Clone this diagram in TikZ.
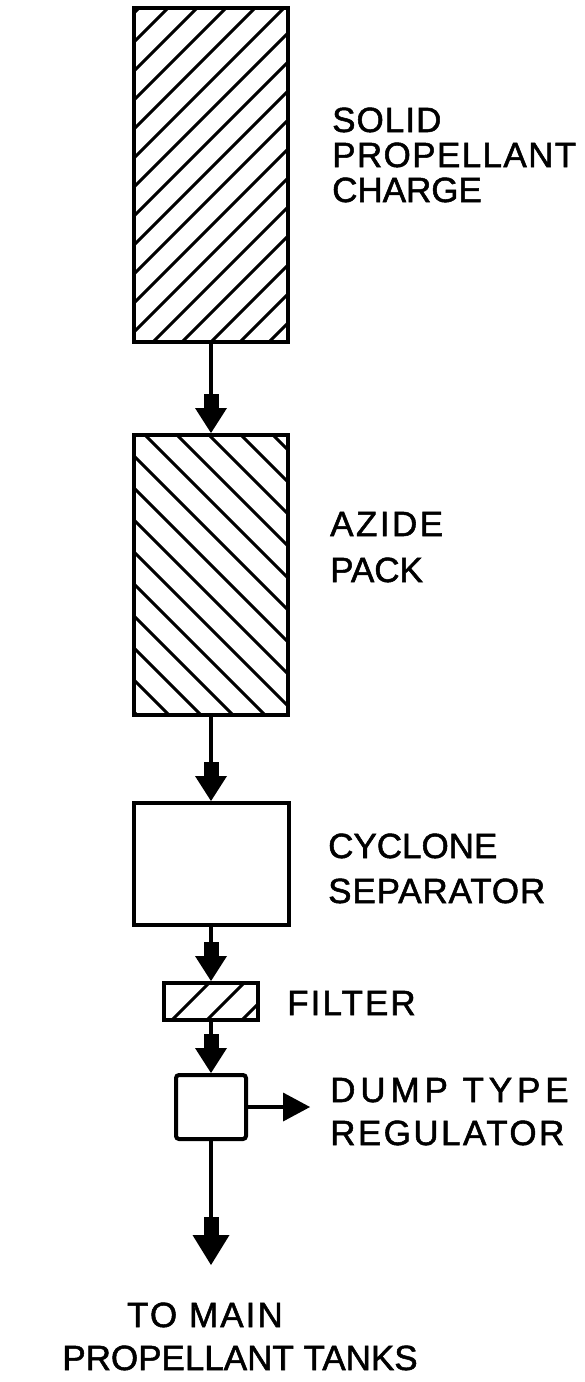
\documentclass[tikz,border=0pt]{standalone}
\usepackage{fontspec}
\newfontfamily\labfont{Liberation Sans}
\usetikzlibrary{arrows.meta}
\begin{document}
\begin{tikzpicture}[x=1pt,y=-1pt,
  blk/.style={draw, line width=4pt, inner sep=0pt, rectangle},
  hatchline/.style={line width=3pt},
  flow/.style={line width=4pt, -{Rectangle[length=14pt,width=15pt,line width=0pt] Triangle[length=25pt,width=32pt,line width=0pt]}},
  flowbig/.style={line width=4pt, -{Rectangle[length=18pt,width=15pt,line width=0pt] Triangle[length=30pt,width=37pt,line width=0pt]}},
  side/.style={line width=4pt, -{Triangle[length=27pt,width=29pt,line width=0pt]}},
  lbl/.style={inner sep=0pt, anchor=base west, font=\labfont\fontsize{35}{35}\selectfont\addfontfeature{LetterSpace=#1,FakeBold=1.5}},
  lbl/.default=0]
\useasboundingbox (0,0) rectangle (584,1382);

% hatching
\begin{scope}
  \clip (134,8) rectangle (288,342);
  \foreach \k in {-1,...,16}
    \draw[hatchline] ({176+29*\k+50},-50) -- ({176+29*\k-400},400);
\end{scope}
\begin{scope}
  \clip (134,435) rectangle (288,715);
  \foreach \k in {-9,...,4}
    \draw[hatchline] ({-290+32*\k+400},400) -- ({-290+32*\k+750},750);
\end{scope}
\begin{scope}
  \clip (164,983) rectangle (258,1020);
  \foreach \c in {1192,1227,1262}
    \draw[hatchline] ({\c-970},970) -- ({\c-1040},1040);
\end{scope}

% blocks
\node[blk, minimum width=154pt, minimum height=334pt] (solid) at (211,175) {};
\node[blk, minimum width=154pt, minimum height=280pt] (azide) at (211,575) {};
\node[blk, minimum width=155pt, minimum height=122pt] (cyclone) at (211,864) {};
\node[blk, minimum width=94pt, minimum height=37pt] (filter) at (211,1001.5) {};
\node[blk, rounded corners=3pt, minimum width=70pt, minimum height=64pt] (reg) at (211,1107) {};
\coordinate (dump) at (310,1107);
\coordinate (tanks) at (211,1265);

% connectors
\draw[flow] (solid.south) -- (azide.north);
\draw[flow] (azide.south) -- (cyclone.north);
\draw[flow] (cyclone.south) -- (filter.north);
\draw[flow] (filter.south) -- (reg.north);
\draw[side] (reg.east) -- (dump);
\draw[flowbig] (reg.south) -- (tanks);

% labels
\node[lbl=3] (t1) at (332,132) {SOLID};
\node[lbl=4] (t2) at (332,167) {PROPELLANT};
\node[lbl] (t3) at (332,202) {CHARGE};
\node[lbl=7] (t4) at (330,536) {AZIDE};
\node[lbl] (t5) at (330,582) {PACK};
\node[lbl] (t6) at (328,858) {CYCLONE};
\node[lbl=2.5] (t7) at (328,903) {SEPARATOR};
\node[lbl=6] (t8) at (287,1015) {FILTER};
\node[lbl=14] (t9) at (330,1102) {DUMP TYPE};
\node[lbl=7] (t10) at (330,1145) {REGULATOR};
\node[lbl=6, anchor=base] (t11) at (205,1327) {TO MAIN};
\node[lbl, anchor=base] (t12) at (240,1370) {PROPELLANT TANKS};
\end{tikzpicture}
\end{document}
